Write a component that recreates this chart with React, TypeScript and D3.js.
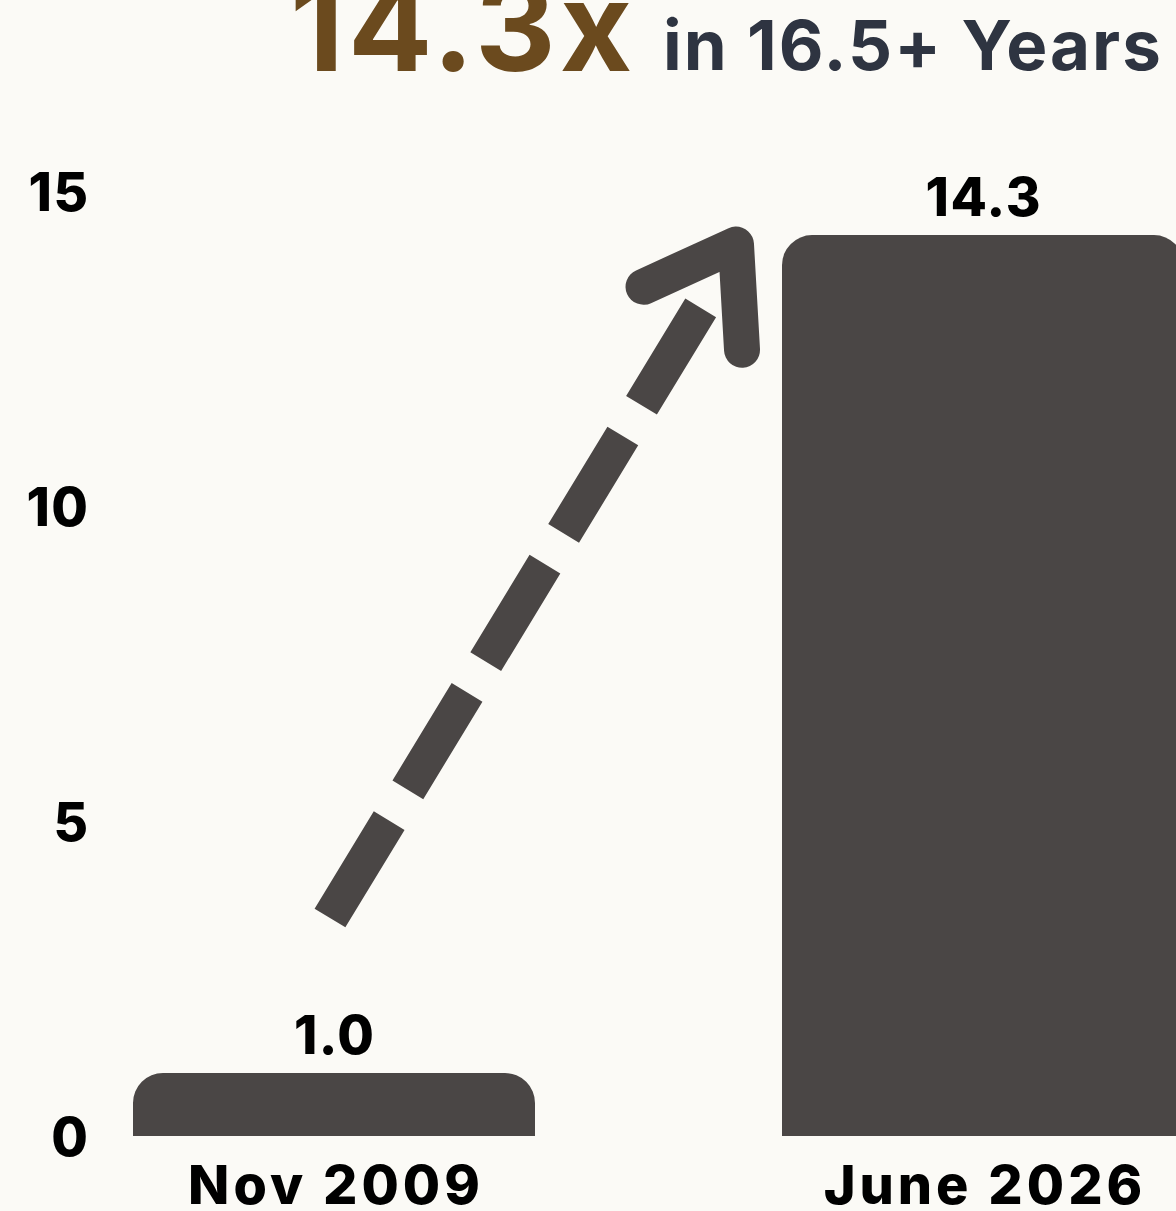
import React from "react";
import * as d3 from "d3";

const categories = ["Nov 2009", "June 2026"];
const values = [1.0, 14.3];
const valueLabels = ["1.0", "14.3"];
const yTicks = [0, 5, 10, 15];
const titleMain = "14.3x";
const titleRest = "in 16.5+ Years";
// arrow annotation in data units: x as fraction of band width from first band start, y as value
const arrowStart = { frac: 0.49, v: 3.46 };
const arrowEnd = { fracX: 1.424, v: 13.27 };
const arrowApex = { fracX: 1.5, v: 14.15 };
const arrowLeftArm = { fracX: 1.27, v: 13.48 };
const arrowRightArm = { fracX: 1.515, v: 12.48 };

const W = 1176;
const H = 1211;
const BG = "#fbfaf6";
const BAR = "#4a4645";
const BROWN = "#6b4a1e";
const SLATE = "#2e3441";
const FONT = "Inter, 'Noto Sans', sans-serif";

function topRoundedRect(x: number, y: number, w: number, h: number, r: number) {
  const rr = Math.min(r, h, w / 2);
  const p = d3.path();
  p.moveTo(x, y + h);
  p.lineTo(x, y + rr);
  p.arcTo(x, y, x + rr, y, rr);
  p.lineTo(x + w - rr, y);
  p.arcTo(x + w, y, x + w, y + rr, rr);
  p.lineTo(x + w, y + h);
  p.closePath();
  return p.toString();
}

export default function App() {
  const x = d3
    .scaleBand<string>()
    .domain(categories)
    .range([133, 1184])
    .paddingInner(0.3806)
    .paddingOuter(0);
  const y = d3.scaleLinear().domain([0, 15]).range([1136, 191]);
  const bw = x.bandwidth();
  const x0 = x(categories[0]) as number;
  const ax = (f: number) => x0 + f * bw;

  const sx = ax(arrowStart.frac);
  const sy = y(arrowStart.v);
  const ex = ax(arrowEnd.fracX);
  const ey = y(arrowEnd.v);

  const catLS = 4;
  const valLS = 1.5;

  return (
    <svg
      width={W}
      height={H}
      style={{ position: "absolute", left: 0, top: 0, background: BG }}
      fontFamily={FONT}
    >
      <rect x={0} y={0} width={W} height={H} fill={BG} />
      {/* title */}
      <text x={290} y={71} fontSize={125} fontWeight={700} fill={BROWN} letterSpacing={4}>
        {titleMain}
      </text>
      <text x={663} y={70} fontSize={69} fontWeight={700} fill={SLATE} letterSpacing={2}>
        {titleRest}
      </text>

      {/* y ticks */}
      {yTicks.map((t) => (
        <text
          key={t}
          x={88}
          y={y(t)}
          dy="0.37em"
          textAnchor="end"
          fontSize={53}
          fontWeight={800}
          fill="#000"
          letterSpacing={1.5}
          dx={1.5}
        >
          {t}
        </text>
      ))}

      {/* bars */}
      {categories.map((c, i) => {
        const bx = x(c) as number;
        const by = y(values[i]);
        return (
          <g key={c}>
            <path d={topRoundedRect(bx, by, bw, y(0) - by, 30)} fill={BAR} />
            <text
              x={bx + bw / 2 + valLS / 2}
              y={by - 19}
              textAnchor="middle"
              fontSize={53}
              fontWeight={800}
              fill="#000"
              letterSpacing={valLS}
            >
              {valueLabels[i]}
            </text>
            <text
              x={bx + bw / 2 + catLS / 2}
              y={1204}
              textAnchor="middle"
              fontSize={54}
              fontWeight={800}
              fill="#000"
              letterSpacing={catLS}
            >
              {c}
            </text>
          </g>
        );
      })}

      {/* dashed arrow */}
      <line
        x1={sx}
        y1={sy}
        x2={ex}
        y2={ey}
        stroke={BAR}
        strokeWidth={36}
        strokeDasharray="114 36"
      />
      <polyline
        points={[
          [ax(arrowLeftArm.fracX), y(arrowLeftArm.v)],
          [ax(arrowApex.fracX), y(arrowApex.v)],
          [ax(arrowRightArm.fracX), y(arrowRightArm.v)],
        ]
          .map((p) => p.join(","))
          .join(" ")}
        fill="none"
        stroke={BAR}
        strokeWidth={36}
        strokeLinecap="round"
        strokeLinejoin="round"
      />
    </svg>
  );
}
